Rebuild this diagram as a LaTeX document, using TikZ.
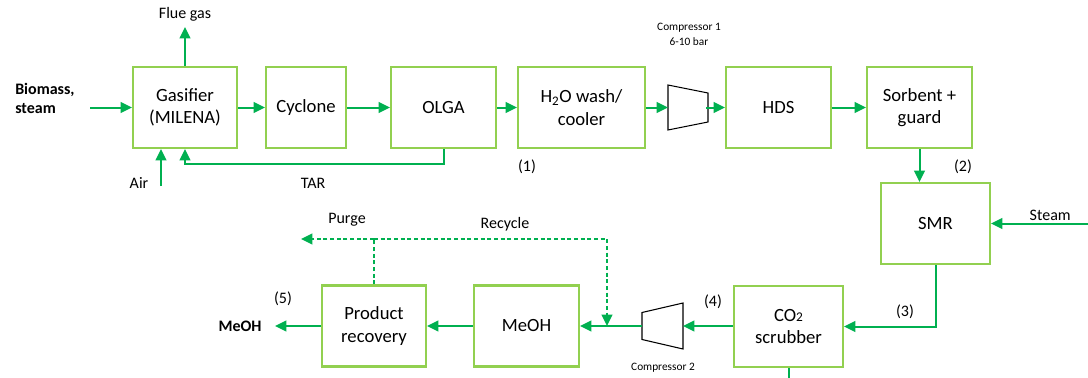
\documentclass[tikz,border=0pt]{standalone}
\usepackage{fontspec}
\setmainfont{Carlito}
\usetikzlibrary{positioning,arrows.meta,calc}
\definecolor{FlowGreen}{RGB}{0,176,80}
\definecolor{BoxGreen}{RGB}{146,208,80}
\tikzset{
  flow/.style={-{Triangle[length=8.5pt,width=8pt]},line width=1.5pt,draw=FlowGreen},
  dflow/.style={flow,line width=1.2pt,dash pattern=on 3pt off 2pt},
  dline/.style={line width=1.2pt,draw=FlowGreen,dash pattern=on 3pt off 2pt},
  pline/.style={line width=1.5pt,draw=FlowGreen},
  unit/.style={draw=BoxGreen,fill=white,line width=1.6pt,
    minimum height=60.75pt,align=center,font=\fontsize{14}{17}\selectfont},
  lbl/.style={font=\fontsize{12}{14.5}\selectfont},
  boldlbl/.style={font=\fontsize{12}{14.5}\selectfont\bfseries},
  smalllbl/.style={font=\fontsize{8.5}{11.2}\selectfont,align=center},
  cmp/.style={draw=black,line width=0.8pt,fill=white}
}
\begin{document}
\begin{tikzpicture}[x=0.75pt,y=-0.75pt]
  \useasboundingbox (0,0) rectangle (1088,378);
  % top row
  \node[unit,minimum width=78pt] (gas) at (185,107.5) {Gasifier\\(MILENA)};
  \node[unit,minimum width=60pt] (cyc) at (306,107.5) {Cyclone};
  \node[unit,minimum width=78.75pt] (olga) at (443.5,107.5) {OLGA};
  \node[unit,minimum width=95.25pt] (wash) at (581.5,107.5) {H\textsubscript{2}O wash/\\cooler};
  \node[unit,minimum width=78.75pt] (hds) at (778.5,107.5) {HDS};
  \node[unit,minimum width=78.75pt] (sorb) at (919.5,107.5) {Sorbent +\\guard};
  % right column and bottom row
  \node[unit,minimum width=81.75pt] (smr) at (935.5,223.5) {SMR};
  \node[unit,minimum width=81.75pt] (scrub) at (788.5,326.5) {CO{\fontsize{10}{12}\selectfont 2}\\scrubber};
  \node[unit,minimum width=78.75pt] (meoh) at (526.5,326) {MeOH};
  \node[unit,minimum width=78pt] (prod) at (374,326) {Product\\recovery};

  % compressors
  \coordinate (cmpA) at (688,107.5);
  \draw[cmp] ($(cmpA)+(-20,-22.5)$) -- ($(cmpA)+(20,-14.5)$)
    -- ($(cmpA)+(20,14.5)$) -- ($(cmpA)+(-20,22.5)$) -- cycle;
  \coordinate (cmpAin) at ($(cmpA)+(-20,0)$);
  \coordinate (cmpAout) at ($(cmpA)+(18,0)$);
  \coordinate (cmpB) at (662.5,326);
  \draw[cmp] ($(cmpB)+(-20.5,-13.5)$) -- ($(cmpB)+(20.5,-23)$)
    -- ($(cmpB)+(20.5,23)$) -- ($(cmpB)+(-20.5,13.5)$) -- cycle;
  \coordinate (cmpBin) at ($(cmpB)+(20.5,0)$);
  \coordinate (cmpBout) at ($(cmpB)+(-20.5,0)$);
  \node[smalllbl] (cmpAlbl) at (689,34.5) {Compressor 1\\6-10 bar};
  \node[smalllbl] (cmpBlbl) at (663,368) {Compressor 2};

  % feeds
  \node[boldlbl,align=left,anchor=west,inner sep=0pt] (feed) at (15,98.5) {Biomass,\\steam};
  \coordinate (feedin) at (90,107.5);
  \coordinate (airin) at (161,186);
  \coordinate (steamin) at (1088,223.5);
  \node[lbl] (airlbl) at (139,183) {Air};

  % main line
  \draw[flow] (feedin) -- (gas.west);
  \draw[flow] (airin) -- (airin |- gas.south);
  \draw[flow] (gas.north) -- ++(0,-39) node[lbl,above] {Flue gas};
  \draw[flow] (gas) -- (cyc);
  \draw[flow] (cyc) -- (olga);
  \draw[flow] (olga) -- (wash);
  \draw[flow] (olga.south) -- ++(0,15) -| (gas.south);
  \node[lbl] (tarlbl) at (313,183) {TAR};
  \draw[flow] (wash.east) -- (cmpAin);
  \draw[flow] (cmpAout) -- (hds.west);
  \draw[flow] (hds) -- (sorb);
  \draw[flow] (sorb.south) -- (sorb.south |- smr.north);
  \draw[flow] (steamin) -- node[lbl,above,pos=0.39,inner sep=1.5pt] {Steam} (smr.east);
  \draw[flow] (smr.south) |- (scrub.east);
  \draw[pline] (scrub.south) -- ++(0,14);
  \draw[flow] (scrub.west |- cmpBin) -- (cmpBin);
  \draw[flow] (cmpBout) -- (meoh.east);
  \draw[flow] (meoh) -- (prod);
  \coordinate (meohtip) at (275,326);
  \draw[flow] (prod.west) -- (meohtip);
  \node[boldlbl] (meohlbl) at (240,326) {MeOH};

  % purge and recycle
  \coordinate (split) at (374,239);
  \coordinate (purgeout) at (301,239);
  \coordinate (recin) at (607,326);
  \draw[dline] (prod.north) -- (split);
  \draw[dflow] (split) -- (purgeout);
  \draw[dflow] (split) -| (recin);
  \node[lbl] (purgelbl) at (347,220) {Purge};
  \node[lbl] (reclbl) at (505,224) {Recycle};

  % stream numbers
  \node[lbl] (n1) at (527,167) {(1)};
  \node[lbl] (n2) at (963,167) {(2)};
  \node[lbl] (n3) at (905,312) {(3)};
  \node[lbl] (n4) at (713,302) {(4)};
  \node[lbl] (n5) at (283,299) {(5)};
\end{tikzpicture}
\end{document}
